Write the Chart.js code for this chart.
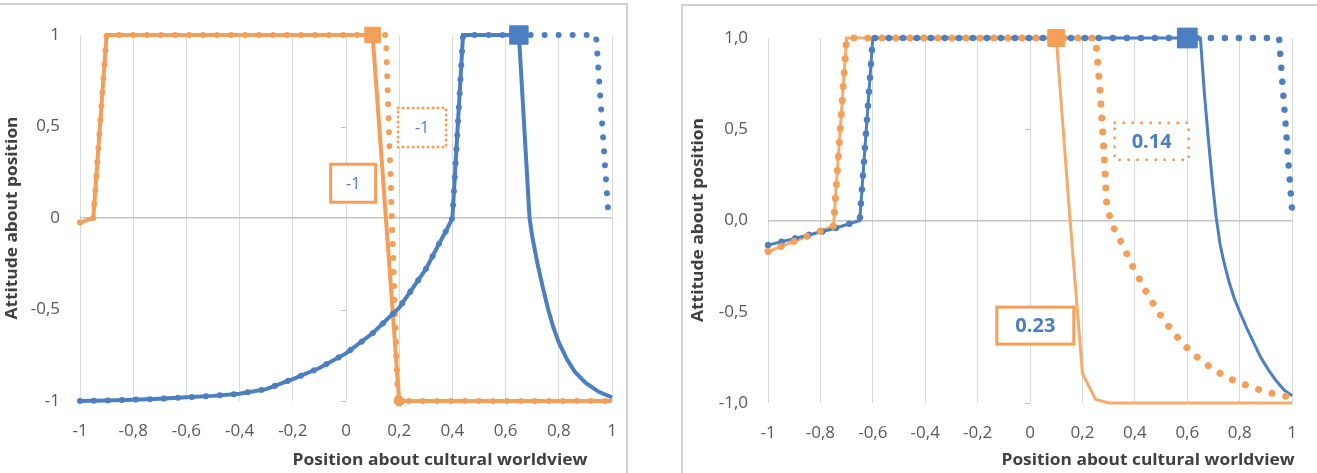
<!DOCTYPE html>
<html lang="en">
<head>
<meta charset="UTF-8">
<title>Attitude about position</title>
<script src="https://cdn.jsdelivr.net/npm/chart.js"></script>
<style>
  body { margin: 0; background: #fff; width: 1317px; height: 473px; overflow: hidden; position: relative; }
  .frame { position: absolute; border: 2px solid #d0d0d0; box-sizing: border-box; }
  #frameL { left: -4px; top: 3px; width: 632px; height: 490px; }
  #frameR { left: 681px; top: 4px; width: 660px; height: 490px; }
  canvas { position: absolute; top: 0; }
  #left { left: 0; }
  #right { left: 660px; }
</style>
</head>
<body>
<div class="frame" id="frameL"></div>
<div class="frame" id="frameR"></div>
<canvas id="left" width="660" height="473"></canvas>
<canvas id="right" width="657" height="473"></canvas>
<script>
// axes
const xTickValues = [-1, -0.8, -0.6, -0.4, -0.2, 0, 0.2, 0.4, 0.6, 0.8, 1];
const xTickLabels = ['-1', '-0,8', '-0,6', '-0,4', '-0,2', '0', '0,2', '0,4', '0,6', '0,8', '1'];
const yTickValues = [-1, -0.5, 0, 0.5, 1];
const yTickLabelsLeft = ['-1', '-0,5', '0', '0,5', '1'];
const yTickLabelsRight = ['-1,0', '-0,5', '0,0', '0,5', '1,0'];

// left panel
const leftOrangeX = [-1, -0.95, -0.9, 0.1, 0.2, 1];
const leftOrangeY = [-0.025, 0, 1, 1, -1, -1];
const leftOrangeDotX = [-1, -0.95, -0.9, 0.15, 0.195, 1];
const leftOrangeDotY = [-0.025, 0, 1, 1, -1, -1];
const leftBlueX = [-1, -0.9, -0.8, -0.7, -0.6, -0.5, -0.4, -0.3, -0.2, -0.1, 0, 0.1, 0.2, 0.3, 0.35, 0.38, 0.4, 0.44, 0.65, 0.69, 0.7, 0.72, 0.74, 0.76, 0.78, 0.8, 0.83, 0.86, 0.9, 0.95, 1];
const leftBlueY = [-1, -0.997, -0.993, -0.988, -0.98, -0.972, -0.96, -0.935, -0.88, -0.82, -0.74, -0.63, -0.49, -0.28, -0.14, -0.06, 0, 1, 1, 0, -0.1, -0.25, -0.38, -0.5, -0.6, -0.68, -0.77, -0.84, -0.9, -0.95, -0.98];
const leftBlueDotX = [-1, -0.9, -0.8, -0.7, -0.6, -0.5, -0.4, -0.3, -0.2, -0.1, 0, 0.1, 0.2, 0.3, 0.35, 0.38, 0.4, 0.44, 0.94, 0.985];
const leftBlueDotY = [-1, -0.997, -0.993, -0.988, -0.98, -0.972, -0.96, -0.935, -0.88, -0.82, -0.74, -0.63, -0.49, -0.28, -0.14, -0.06, 0, 1, 1, 0.05];
const leftSquareOrange = [0.1, 1];
const leftCircleOrange = [0.2, -1];
const leftSquareBlue = [0.65, 1];
const leftLabels = ['-1', '-1'];

// right panel
const rightOrangeX = [-1, -0.75, -0.7, 0.1, 0.15, 0.2, 0.25, 0.3, 1];
const rightOrangeY = [-0.17, -0.03, 1, 1, 0.05, -0.84, -0.98, -1, -1];
const rightOrangeDotX = [-1, -0.75, -0.7, 0.25, 0.265, 0.28, 0.292, 0.306, 0.325, 0.35, 0.4, 0.45, 0.5, 0.55, 0.6, 0.65, 0.7, 0.75, 0.8, 0.85, 0.9, 0.95, 1];
const rightOrangeDotY = [-0.17, -0.03, 1, 1, 0.75, 0.42, 0.1, 0.01, -0.06, -0.125, -0.275, -0.41, -0.525, -0.62, -0.7, -0.765, -0.815, -0.86, -0.89, -0.915, -0.94, -0.956, -0.97];
const rightBlueX = [-1, -0.75, -0.65, -0.6, 0.65, 0.665, 0.68, 0.695, 0.71, 0.725, 0.74, 0.76, 0.78, 0.8, 0.83, 0.86, 0.88, 0.91, 0.94, 0.97, 1];
const rightBlueY = [-0.135, -0.045, 0, 1, 1, 0.7, 0.45, 0.22, 0.02, -0.13, -0.23, -0.34, -0.43, -0.5, -0.6, -0.69, -0.75, -0.82, -0.88, -0.93, -0.96];
const rightBlueDotX = [-1, -0.75, -0.65, -0.6, 0.95, 1];
const rightBlueDotY = [-0.135, -0.045, 0, 1, 1, 0.05];
const rightSquareOrange = [0.1, 1];
const rightSquareBlue = [0.6, 1];
const rightLabels = ['0.14', '0.23'];

const ORANGE = '#F59E58';
const ORANGE_LIGHT = '#F6AB6C';
const BLUE = '#4C7FC2';
const FONT = '"Open Sans", sans-serif';

function pts(xs, ys) {
  return xs.map((x, i) => ({ x: x, y: ys[i] }));
}

function solid(xs, ys, color, width, order) {
  return { data: pts(xs, ys), borderColor: color, borderWidth: width, pointRadius: 0, tension: 0, clip: false, order: order };
}

function dotted(xs, ys, color, width, gap, order) {
  return {
    data: pts(xs, ys), borderColor: color, borderWidth: width, pointRadius: 0, clip: false,
    borderDash: [0.001, gap], borderCapStyle: 'round', order: order
  };
}

function marker(p, color, style, r, order) {
  return {
    data: [{ x: p[0], y: p[1] }], showLine: false, pointStyle: style, pointRadius: r, clip: false,
    pointBackgroundColor: color, pointBorderColor: color, order: order
  };
}

// draw text squeezed/stretched to a given width
function fitText(ctx, text, x, y, width, rotate) {
  ctx.save();
  ctx.translate(x, y);
  if (rotate) ctx.rotate(-Math.PI / 2);
  const w = ctx.measureText(text).width;
  ctx.scale(width / w, 1);
  ctx.fillText(text, 0, 0);
  ctx.restore();
}

// titles, label boxes and little tick marks at x = 0
const extras = {
  id: 'extras',
  afterDatasetsDraw(chart, args, o) {
    const ctx = chart.ctx;
    const xs = chart.scales.x, ys = chart.scales.y;
    ctx.save();
    ctx.strokeStyle = '#bfbfbf';
    ctx.lineWidth = 1;
    const x0 = xs.getPixelForValue(0);
    [-1, -0.5, 0.5].forEach(v => {
      const y = Math.round(ys.getPixelForValue(v)) + 0.5;
      ctx.beginPath();
      ctx.moveTo(x0 - 5, y);
      ctx.lineTo(x0, y);
      ctx.stroke();
    });
    o.boxes.forEach(b => {
      const cx = xs.getPixelForValue(b.x), cy = ys.getPixelForValue(b.y);
      ctx.fillStyle = '#fff';
      ctx.fillRect(cx - b.w / 2, cy - b.h / 2, b.w, b.h);
      ctx.strokeStyle = ORANGE;
      ctx.lineWidth = 3;
      ctx.lineCap = b.dotted ? 'round' : 'butt';
      ctx.setLineDash(b.dotted ? [0.001, o.dotGap] : []);
      ctx.strokeRect(cx - b.w / 2, cy - b.h / 2, b.w, b.h);
      ctx.setLineDash([]);
      ctx.fillStyle = BLUE;
      ctx.font = o.boxFont;
      ctx.textAlign = 'center';
      ctx.textBaseline = 'middle';
      ctx.fillText(b.text, cx, cy + 1);
    });
    ctx.fillStyle = '#404040';
    ctx.font = 'bold 16px ' + FONT;
    ctx.textAlign = 'center';
    ctx.textBaseline = 'middle';
    fitText(ctx, 'Position about cultural worldview', o.xTitle[0], o.xTitle[1], o.xTitle[2], false);
    fitText(ctx, 'Attitude about position', o.yTitle[0], o.yTitle[1], o.yTitle[2], true);
    ctx.restore();
  }
};

function makeChart(id, datasets, yLabels, area, size, extraOpts) {
  return new Chart(document.getElementById(id), {
    type: 'line',
    data: { datasets: datasets },
    plugins: [extras],
    options: {
      responsive: false,
      animation: false,
      layout: { padding: { left: 0, top: area.top, right: size.w - area.right, bottom: 0 } },
      plugins: { legend: { display: false }, tooltip: { enabled: false }, extras: extraOpts },
      scales: {
        x: {
          type: 'linear', min: -1, max: 1,
          afterFit: s => { s.height = size.h - area.bottom; },
          afterBuildTicks: s => { s.ticks = xTickValues.map(v => ({ value: v })); },
          ticks: {
            callback: (v) => xTickLabels[xTickValues.findIndex(t => Math.abs(t - v) < 1e-9)],
            color: '#595959', font: { family: FONT, size: 17 }, padding: 20, maxRotation: 0, autoSkip: false
          },
          grid: { color: '#d9d9d9', lineWidth: 1, drawTicks: false },
          border: { display: false }
        },
        y: {
          type: 'linear', min: -1, max: 1,
          afterFit: s => { s.width = area.left; },
          afterBuildTicks: s => { s.ticks = yTickValues.map(v => ({ value: v })); },
          ticks: {
            callback: (v) => yLabels[yTickValues.indexOf(v)],
            color: '#595959', font: { family: FONT, size: 17 }, padding: 20
          },
          grid: {
            color: c => (c.tick && c.tick.value === 0) ? '#c4c4c4' : 'rgba(0,0,0,0)',
            lineWidth: 1.5, drawTicks: false
          },
          border: { display: false }
        }
      }
    }
  });
}

makeChart('left', [
  marker(leftSquareBlue, BLUE, 'rect', 13, 0),
  marker(leftSquareOrange, ORANGE, 'rect', 11, 1),
  marker(leftCircleOrange, ORANGE, 'circle', 5, 1),
  dotted(leftBlueDotX, leftBlueDotY, BLUE, 6, 14, 2),
  solid(leftBlueX, leftBlueY, BLUE, 4, 3),
  dotted(leftOrangeDotX, leftOrangeDotY, ORANGE, 6, 14, 4),
  solid(leftOrangeX, leftOrangeY, ORANGE, 4, 5)
], yTickLabelsLeft, { left: 80, right: 612, top: 35, bottom: 401 }, { w: 660, h: 473 }, {
  xTitle: [440, 460, 295], yTitle: [12, 218, 203], boxFont: '16px ' + FONT, dotGap: 5,
  boxes: [
    { text: leftLabels[0], x: 0.286, y: 0.495, w: 48, h: 39, dotted: true },
    { text: leftLabels[1], x: 0.027, y: 0.19, w: 45, h: 38, dotted: false }
  ]
});

makeChart('right', [
  marker(rightSquareBlue, BLUE, 'rect', 14, 0),
  marker(rightSquareOrange, ORANGE, 'rect', 12, 1),
  dotted(rightOrangeDotX, rightOrangeDotY, ORANGE, 7, 14, 2),
  dotted(rightBlueDotX, rightBlueDotY, BLUE, 6.5, 14, 3),
  solid(rightBlueX, rightBlueY, BLUE, 3, 4),
  solid(rightOrangeX, rightOrangeY, ORANGE_LIGHT, 3, 5)
], yTickLabelsRight, { left: 108, right: 642, top: 38, bottom: 403 }, { w: 657, h: 473 }, {
  xTitle: [488, 460, 293], yTitle: [38, 220, 204], boxFont: 'bold 20px ' + FONT, dotGap: 9,
  boxes: [
    { text: rightLabels[0], x: 0.464, y: 0.434, w: 74, h: 37, dotted: true },
    { text: rightLabels[1], x: 0.02, y: -0.576, w: 77, h: 37, dotted: false }
  ]
});
</script>
</body>
</html>
